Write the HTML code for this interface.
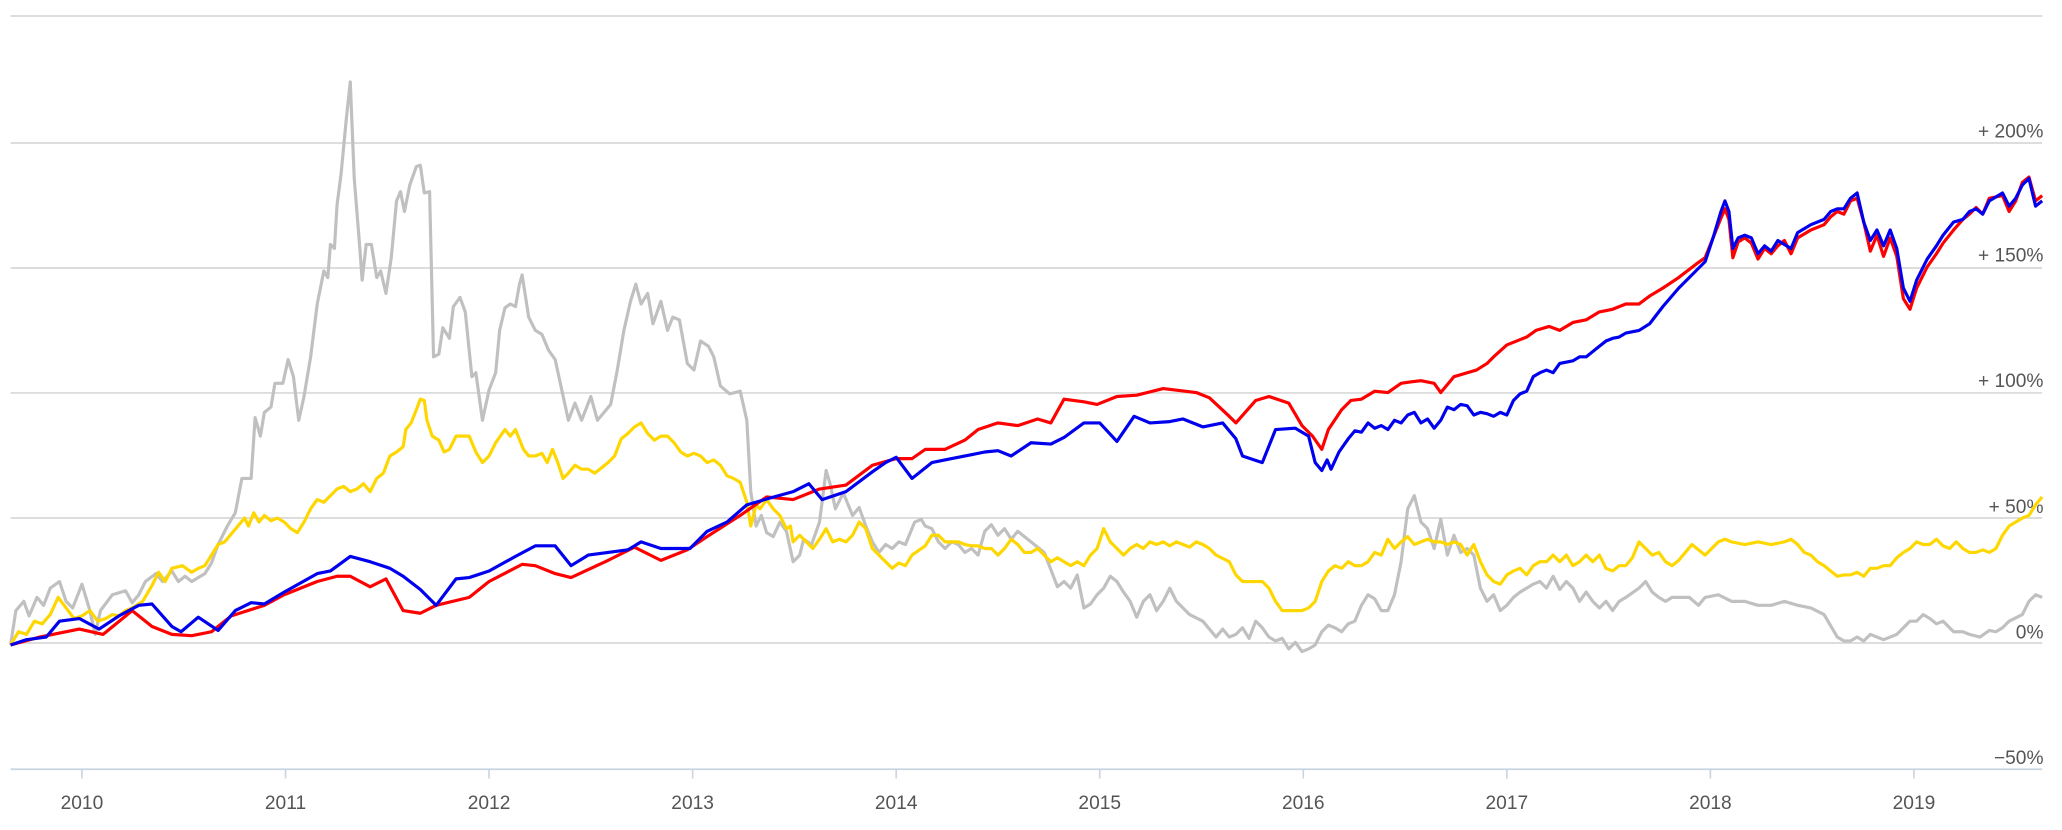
<!DOCTYPE html>
<html><head><meta charset="utf-8"><style>
html,body{margin:0;padding:0;background:#fff;}
svg{display:block;}
text{font-family:"Liberation Sans","DejaVu Sans",sans-serif;fill:#555;}
</style></head><body>
<svg width="2062" height="830" viewBox="0 0 1560 628" preserveAspectRatio="none" xmlns="http://www.w3.org/2000/svg">
<g stroke="#d8d8d8" stroke-width="1.3">
<line x1="8" x2="1545" y1="12.1" y2="12.1"/>
<line x1="8" x2="1545" y1="108.2" y2="108.2"/>
<line x1="8" x2="1545" y1="202.8" y2="202.8"/>
<line x1="8" x2="1545" y1="297.3" y2="297.3"/>
<line x1="8" x2="1545" y1="391.9" y2="391.9"/>
<line x1="8" x2="1545" y1="486.5" y2="486.5"/>
</g>
<line x1="8" x2="1545" y1="582" y2="582" stroke="#c8d4e0" stroke-width="1.3"/>
<g stroke="#c8d4e0" stroke-width="1.2">
<line x1="62" x2="62" y1="582" y2="589"/><line x1="216" x2="216" y1="582" y2="589"/><line x1="370" x2="370" y1="582" y2="589"/><line x1="524" x2="524" y1="582" y2="589"/><line x1="678" x2="678" y1="582" y2="589"/><line x1="832" x2="832" y1="582" y2="589"/><line x1="986" x2="986" y1="582" y2="589"/><line x1="1140" x2="1140" y1="582" y2="589"/><line x1="1294" x2="1294" y1="582" y2="589"/><line x1="1448" x2="1448" y1="582" y2="589"/>
</g>
<g font-size="14.5" text-anchor="end">
<text x="1546" y="104">+ 200%</text>
<text x="1546" y="198">+ 150%</text>
<text x="1546" y="293">+ 100%</text>
<text x="1546" y="388">+ 50%</text>
<text x="1546" y="483">0%</text>
<text x="1546" y="578">−50%</text>
</g>
<g font-size="14.5" text-anchor="middle">
<text x="62" y="612">2010</text><text x="216" y="612">2011</text><text x="370" y="612">2012</text><text x="524" y="612">2013</text><text x="678" y="612">2014</text><text x="832" y="612">2015</text><text x="986" y="612">2016</text><text x="1140" y="612">2017</text><text x="1294" y="612">2018</text><text x="1448" y="612">2019</text>
</g>
<g fill="none" stroke-width="2.4" stroke-linejoin="round">
<polyline stroke="#c0c0c0" points="8,488 12,462 18,455 22,466 28,452 33,458 38,445 45,440 50,455 55,460 62,442 68,462 72,480 76,462 85,450 95,447 100,456 105,450 110,440 118,434 123,440 130,432 135,440 140,436 145,440 155,434 160,426 165,412 172,398 178,388 183,362 190,362 193,316 197,330 200,312 205,308 208,290 214,290 218,272 222,285 226,318 230,300 235,270 240,230 245,205 248,210 250,185 253,188 255,155 258,132 262,90 265,62 268,135 272,185 274,212 277,185 281,185 285,210 288,205 292,222 296,195 300,152 303,145 306,160 310,140 315,126 318,125 321,146 325,145 328,270 332,268 335,248 340,256 343,232 348,225 352,236 357,285 360,282 365,318 370,295 375,282 378,250 382,233 386,230 390,232 393,215 395,208 400,240 405,250 410,253 415,265 420,272 425,295 430,318 435,305 440,318 447,300 452,318 457,312 462,306 467,280 472,250 477,228 481,215 485,230 490,222 494,245 500,228 505,250 509,240 514,242 520,275 525,280 530,258 536,262 540,270 545,292 552,298 560,296 565,318 568,372 572,398 576,390 580,403 585,406 590,395 595,402 600,425 605,420 608,408 614,412 620,395 625,356 628,366 632,385 638,373 645,390 650,384 655,398 660,410 665,418 670,412 675,415 680,410 685,412 692,395 697,393 700,398 705,400 710,410 715,415 720,410 725,412 730,418 735,415 740,420 745,402 750,397 755,405 760,400 765,408 770,402 780,410 790,418 800,444 805,440 810,445 815,435 820,460 825,457 830,450 835,445 840,436 845,440 850,448 855,455 860,467 865,455 870,450 875,462 880,455 885,445 890,455 895,460 900,465 910,470 920,482 925,476 930,482 935,480 940,475 945,483 950,470 955,475 960,482 965,485 970,483 975,491 980,486 985,493 990,491 995,488 1000,478 1005,473 1010,475 1015,478 1020,472 1025,470 1030,458 1035,450 1040,453 1045,462 1050,462 1055,450 1060,425 1065,385 1070,375 1075,395 1080,400 1085,415 1090,393 1095,420 1100,405 1105,418 1110,415 1115,420 1120,445 1125,455 1130,450 1135,462 1140,458 1145,452 1150,448 1155,445 1160,442 1165,440 1170,445 1175,436 1180,446 1185,440 1190,445 1195,455 1200,448 1205,455 1210,460 1215,455 1220,462 1225,455 1230,452 1240,445 1245,440 1250,448 1255,452 1260,455 1265,452 1270,452 1278,452 1285,458 1290,452 1300,450 1310,455 1320,455 1330,458 1340,458 1350,455 1360,458 1370,460 1380,465 1390,482 1395,485 1400,485 1405,482 1410,485 1415,480 1420,482 1425,484 1430,482 1435,480 1440,475 1445,470 1450,470 1455,465 1460,468 1465,472 1470,470 1478,478 1485,478 1490,480 1498,482 1505,477 1510,478 1515,475 1520,470 1530,465 1535,455 1540,450 1545,452"/>
<polyline stroke="#ffd700" points="8,488 14,478 20,480 26,470 32,472 38,465 44,452 50,460 56,468 62,466 68,462 74,470 80,468 85,465 90,466 95,462 100,460 108,455 115,443 120,433 125,440 130,430 138,428 145,433 150,430 155,428 160,420 165,412 170,410 175,404 180,398 185,392 188,398 192,388 196,395 200,390 205,394 210,392 215,395 220,400 225,403 230,395 235,385 240,378 245,380 250,375 255,370 260,368 265,372 270,370 275,366 280,372 285,362 290,358 295,345 300,342 305,338 307,325 311,320 315,310 318,302 321,303 323,318 327,330 332,333 336,342 340,340 345,330 350,330 355,330 360,342 365,350 370,345 375,335 382,325 386,330 390,325 396,340 400,345 405,345 410,343 414,350 418,340 422,350 426,362 430,358 435,352 440,355 445,355 450,358 455,354 460,350 465,345 470,332 475,328 480,323 485,320 490,328 495,333 500,330 505,330 510,335 515,342 520,345 525,343 530,345 535,350 540,348 545,352 550,360 555,362 560,365 565,380 568,398 572,382 575,385 580,378 585,385 590,390 595,400 598,398 600,410 605,405 610,410 615,415 620,408 625,400 630,410 635,408 640,410 645,405 650,395 655,400 660,415 665,420 670,425 675,430 680,426 685,428 690,420 700,413 705,405 710,405 715,410 720,410 725,410 730,412 735,413 740,413 745,415 750,415 755,420 760,415 765,408 770,412 775,418 780,418 785,415 790,420 795,425 800,422 805,425 810,428 815,425 820,428 825,420 830,415 835,400 840,410 845,415 850,420 855,415 860,412 865,415 870,410 875,412 880,410 885,413 890,410 895,412 900,414 905,410 910,412 915,415 920,420 930,425 935,435 940,440 945,440 950,440 955,440 960,445 965,455 970,462 975,462 980,462 985,462 990,460 995,455 1000,440 1005,432 1010,428 1015,430 1020,425 1025,428 1030,428 1035,425 1040,418 1045,420 1050,408 1055,415 1060,410 1065,406 1070,412 1075,410 1080,408 1085,410 1090,410 1095,412 1100,410 1105,412 1110,420 1115,412 1120,425 1125,435 1130,440 1135,442 1140,435 1145,432 1150,430 1155,435 1160,428 1165,425 1170,425 1175,420 1180,425 1185,420 1190,428 1195,425 1200,420 1205,425 1210,420 1215,430 1220,432 1225,428 1230,428 1235,422 1240,410 1245,415 1250,420 1255,418 1260,425 1265,428 1270,424 1275,418 1280,412 1285,416 1290,420 1295,415 1300,410 1305,408 1310,410 1320,412 1330,410 1340,412 1350,410 1355,408 1360,412 1365,418 1370,420 1375,425 1380,428 1385,432 1390,436 1395,435 1400,435 1405,433 1410,436 1415,430 1420,430 1425,428 1430,428 1435,422 1440,418 1445,415 1450,410 1455,412 1460,412 1465,408 1470,413 1475,415 1480,410 1485,415 1490,418 1495,418 1500,416 1505,418 1510,415 1515,405 1520,398 1525,395 1530,392 1535,390 1540,382 1545,376"/>
<polyline stroke="#ff0000" points="8,488 30,482 60,476 78,480 100,462 115,474 130,480 145,481 160,478 175,466 200,458 215,450 240,440 255,436 265,436 280,444 292,438 305,462 318,464 330,458 355,452 370,440 395,427 405,428 420,434 432,437 460,424 480,414 500,424 520,416 535,406 560,390 580,376 600,378 620,370 640,367 660,352 678,347 690,347 700,340 715,340 730,333 740,325 755,320 770,322 785,317 795,320 805,302 820,304 830,306 845,300 860,299 880,294 905,297 915,301 930,315 935,320 950,303 960,300 975,305 985,322 993,330 1000,340 1005,325 1015,310 1022,303 1030,302 1040,296 1050,297 1060,290 1067,289 1075,288 1085,290 1090,297 1100,285 1110,282 1117,280 1125,275 1130,270 1140,261 1155,255 1162,250 1172,247 1180,250 1190,244 1200,242 1210,236 1220,234 1230,230 1240,230 1248,224 1258,218 1270,210 1283,200 1290,195 1296,180 1302,165 1305,158 1308,166 1311,195 1315,183 1320,180 1325,184 1330,196 1335,188 1340,192 1345,186 1350,182 1355,192 1360,180 1370,174 1380,170 1385,164 1390,160 1395,162 1400,152 1405,150 1410,168 1415,190 1420,178 1425,194 1430,180 1435,194 1440,226 1445,234 1450,218 1458,202 1465,192 1470,184 1478,174 1485,166 1490,162 1495,157 1500,162 1505,150 1515,148 1520,160 1525,152 1530,138 1535,134 1540,152 1545,148"/>
<polyline stroke="#0000ee" points="8,488 20,484 35,482 45,470 60,468 75,476 90,466 105,458 115,457 130,474 137,478 150,467 165,477 178,462 190,456 200,457 215,448 240,434 250,432 265,421 280,425 295,430 305,436 318,446 330,458 345,438 355,437 370,432 390,421 405,413 420,413 432,428 445,420 460,418 475,416 485,410 500,415 522,415 535,402 550,395 565,382 582,377 600,372 612,366 622,378 640,372 660,357 670,350 678,346 690,362 705,350 720,347 735,344 745,342 755,341 765,345 780,335 795,336 805,331 820,320 832,320 845,334 858,315 870,320 885,319 895,317 910,323 925,320 935,332 940,345 955,350 965,325 980,324 990,330 995,350 1000,356 1004,348 1007,355 1013,342 1020,332 1025,326 1030,327 1035,320 1040,324 1045,322 1050,325 1055,318 1060,320 1065,314 1070,312 1075,320 1080,317 1085,324 1090,318 1095,308 1100,310 1105,306 1110,307 1115,314 1120,312 1125,313 1130,315 1135,312 1140,314 1145,303 1150,298 1155,296 1160,285 1165,282 1170,280 1175,282 1180,275 1190,273 1195,270 1200,270 1205,266 1210,262 1215,258 1220,256 1225,255 1230,252 1240,250 1248,245 1258,232 1270,218 1283,205 1290,198 1296,180 1302,160 1305,152 1308,160 1311,188 1315,180 1320,178 1325,180 1330,192 1335,186 1340,190 1345,182 1350,185 1355,188 1360,176 1370,170 1380,166 1385,160 1390,158 1395,158 1400,150 1405,146 1410,168 1415,182 1420,174 1425,186 1430,174 1435,188 1440,218 1445,228 1450,212 1458,196 1465,186 1470,178 1478,168 1485,166 1490,160 1495,158 1500,162 1505,152 1515,146 1520,156 1525,150 1530,140 1535,135 1540,156 1545,152"/>
</g>
</svg>
</body></html>
